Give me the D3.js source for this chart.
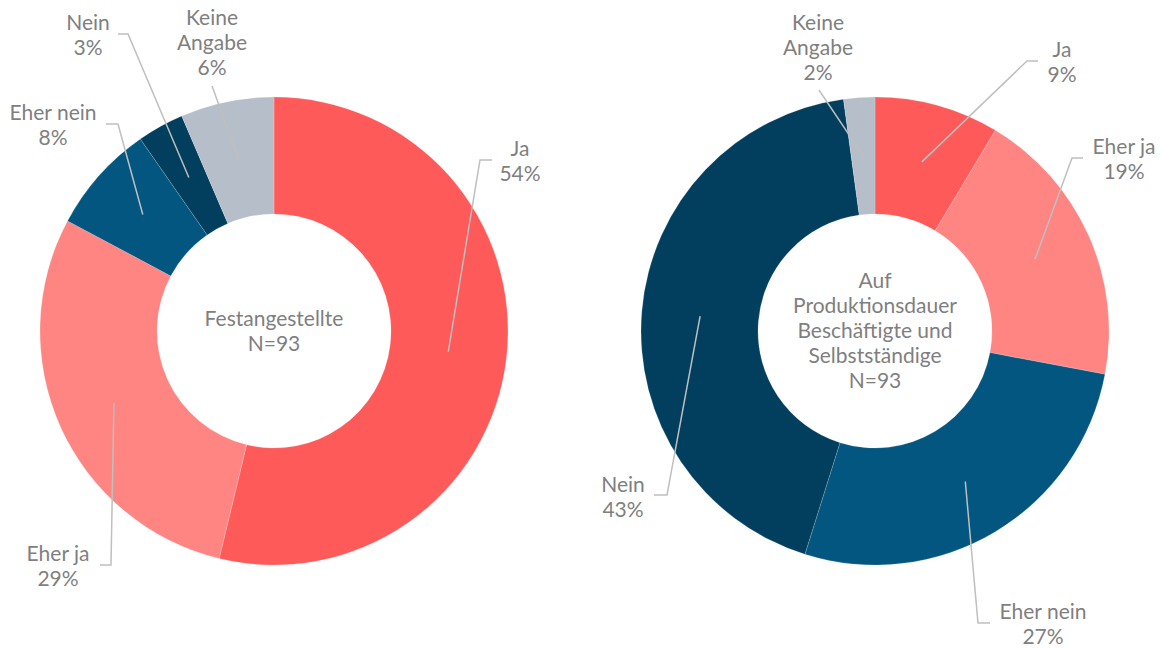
<!DOCTYPE html>
<html>
<head>
<meta charset="utf-8">
<script src="https://cdn.jsdelivr.net/npm/d3@7"></script>
<style>
  html, body { margin: 0; padding: 0; background: #fff; }
  svg { display: block; font-family: Lato, "Open Sans", sans-serif; }
</style>
</head>
<body>
<svg id="chart" width="1162" height="648"></svg>
<script>
// ---- data (answer counts, N=93 each; labels show rounded shares) ----
const categories = ["Ja", "Eher ja", "Eher nein", "Nein", "Keine Angabe"];
const festangestellte = [50, 27, 7, 3, 6];
const produktionsdauer = [8, 18, 25, 40, 2];
const titles = [
  ["Festangestellte", "N=93"],
  ["Auf", "Produktionsdauer", "Beschäftigte und", "Selbstständige", "N=93"]
];

// ---- style / layout ----
const colors = ["#FF5A5A", "#FF8583", "#02567F", "#023F5E", "#B6BEC9"];
const textColor = "#7F7F7F";
const leaderColor = "#BFBFBF";
const fontSize = 21;
const lineH = 25;
const outerR = 234, innerR = 117;

const charts = [
  {
    values: festangestellte, title: titles[0], cx: 274, cy: 331,
    labels: [
      { tx: 520, ty: 149, ex: 480, ey: 160, hx: 492 },
      { tx: 58, ty: 554, ex: 111, ey: 565, hx: 100 },
      { tx: 53, ty: 113, ex: 118, ey: 124, hx: 106 },
      { tx: 88, ty: 23, ex: 128, ey: 34, hx: 118 },
      { tx: 212, ty: 18, ex: 212, ey: 86, hx: 212 }
    ]
  },
  {
    values: produktionsdauer, title: titles[1], cx: 875, cy: 331,
    labels: [
      { tx: 1062, ty: 50, ex: 1027, ey: 61, hx: 1038 },
      { tx: 1124, ty: 147, ex: 1072, ey: 158, hx: 1083 },
      { tx: 1043, ty: 612, ex: 978, ey: 623, hx: 990 },
      { tx: 623, ty: 485, ex: 667, ey: 495, hx: 654 },
      { tx: 818, ty: 23, ex: 819, ey: 90, hx: 819 }
    ]
  }
];

const svg = d3.select("#chart");
const color = d3.scaleOrdinal().domain(categories).range(colors);
const pie = d3.pie().sort(null).value(d => d.value).startAngle(0).endAngle(2 * Math.PI);
const arc = d3.arc().innerRadius(innerR).outerRadius(outerR);
const midArc = d3.arc().innerRadius((innerR + outerR) / 2).outerRadius((innerR + outerR) / 2);

charts.forEach(ch => {
  const total = d3.sum(ch.values);
  const data = categories.map((c, i) => ({ cat: c, value: ch.values[i], idx: i }));
  const arcs = pie(data);
  const g = svg.append("g").attr("transform", `translate(${ch.cx},${ch.cy})`);

  g.selectAll("path.slice")
    .data(arcs)
    .join("path")
    .attr("class", "slice")
    .attr("d", arc)
    .attr("fill", d => color(d.data.cat))
    .attr("stroke", "#fff")
    .attr("stroke-opacity", 0.6)
    .attr("stroke-width", 0.3);

  // leader lines
  arcs.forEach((a, i) => {
    const c = midArc.centroid(a);
    const L = ch.labels[i];
    const pts = [[ch.cx + c[0], ch.cy + c[1]], [L.ex, L.ey], [L.hx, L.ey]];
    svg.append("polyline")
      .attr("points", pts.map(p => p.join(",")).join(" "))
      .attr("fill", "none")
      .attr("stroke", leaderColor)
      .attr("stroke-width", 1.5);
  });

  // labels
  arcs.forEach((a, i) => {
    const L = ch.labels[i];
    const name = a.data.cat === "Keine Angabe" ? ["Keine", "Angabe"] : [a.data.cat];
    const pct = Math.round(a.data.value / total * 100);
    const lines = name.concat([pct + "%"]);
    const t = svg.append("text")
      .attr("text-anchor", "middle")
      .attr("fill", textColor)
      .attr("font-size", fontSize);
    lines.forEach((ln, j) => {
      t.append("tspan")
        .attr("x", L.tx)
        .attr("y", L.ty + j * lineH)
        .attr("dy", "0.35em")
        .text(ln);
    });
  });

  // center title
  const n = ch.title.length;
  const ct = svg.append("text")
    .attr("text-anchor", "middle")
    .attr("fill", textColor)
    .attr("font-size", fontSize);
  ch.title.forEach((ln, j) => {
    ct.append("tspan")
      .attr("x", ch.cx)
      .attr("y", ch.cy + (j - (n - 1) / 2) * lineH)
      .attr("dy", "0.35em")
      .text(ln);
  });
});
</script>
</body>
</html>
